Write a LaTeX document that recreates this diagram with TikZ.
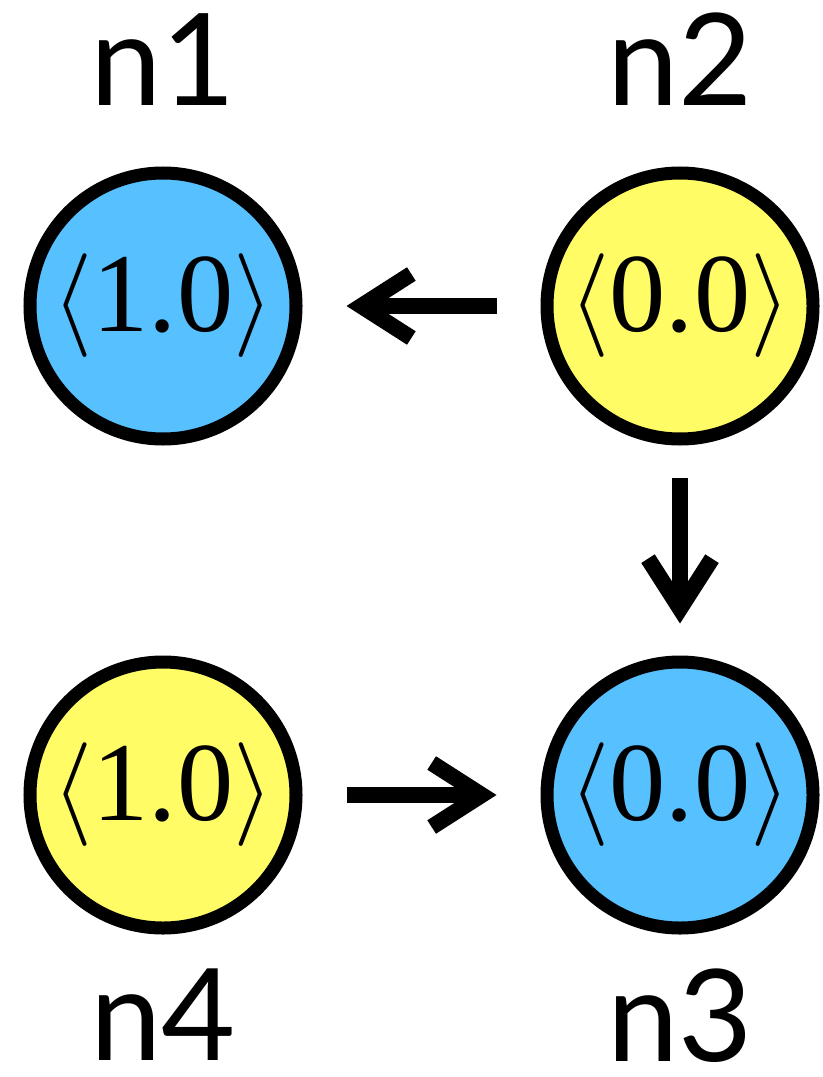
\RequirePackage{fix-cm}
\documentclass[tikz,border=0pt]{standalone}
\usepackage{fontspec}
\newfontfamily\labelfont{Lato}
\newfontfamily\valfont{Liberation Serif}
\usetikzlibrary{arrows.meta,positioning}
\definecolor{NodeBlue}{HTML}{57C0FF}
\definecolor{NodeYellow}{HTML}{FFFC66}
\newcommand{\brk}[1]{{\fontsize{29.5}{32}\selectfont$#1$}}
\newcommand{\nodeval}[1]{\brk{\langle}#1\brk{\rangle}}

\begin{document}
\begin{tikzpicture}[
  node distance=4.89cm and 5.17cm, on grid,
  site/.style={circle, draw=black, line width=0.13cm, minimum size=2.66cm,
    inner sep=0pt, font=\valfont\fontsize{32}{38}\selectfont},
  tag/.style={font=\labelfont\fontsize{36.4}{40}\selectfont, inner sep=0pt},
  push/.style={-{Straight Barb[length=5mm,width=6.4mm]}, line width=0.16cm}
]
  \useasboundingbox (0,0) rectangle (8.22,-10.77);
  \node[site, fill=NodeBlue, label={[tag, label distance=0.6cm]above:n1}] (n1) at (1.63,-3.06) {\nodeval{1.0}};
  \node[site, fill=NodeYellow, right=of n1, label={[tag, label distance=0.6cm]above:n2}] (n2) {\nodeval{0.0}};
  \node[site, fill=NodeBlue, below=of n2, label={[tag, label distance=0.34cm]below:n3}] (n3) {\nodeval{0.0}};
  \node[site, fill=NodeYellow, below=of n1, label={[tag, label distance=0.34cm]below:n4}] (n4) {\nodeval{1.0}};
  \draw[push, shorten <=0.44cm, shorten >=0.44cm] (n2) -- (n1);
  \draw[push, shorten <=0.32cm, shorten >=0.32cm] (n2) -- (n3);
  \draw[push, shorten <=0.44cm, shorten >=0.44cm] (n4) -- (n3);
\end{tikzpicture}
\end{document}
